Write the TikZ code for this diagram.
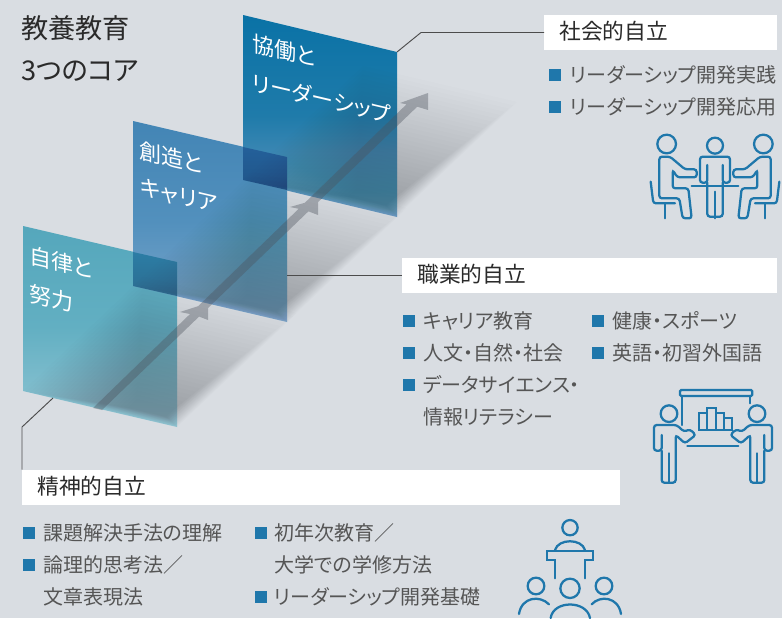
\documentclass[tikz,border=0pt]{standalone}
\usepackage{fontspec}
\setmainfont[RawFeature=+palt]{Noto Sans CJK JP}
\definecolor{bgcolor}{HTML}{D9DDE2}
\definecolor{iconblue}{HTML}{1F77AB}
\definecolor{bodytext}{HTML}{555555}
\definecolor{headtext}{HTML}{2A2A2A}
\definecolor{shadowgray}{HTML}{3A404C}
\definecolor{arrowgray}{HTML}{4C525C}
\definecolor{colorA1}{HTML}{55A7BC}
\definecolor{colorA2}{HTML}{62AFC2}
\definecolor{colorA3}{HTML}{92C6D4}
\definecolor{colorB1}{HTML}{4385B5}
\definecolor{colorB2}{HTML}{5290BD}
\definecolor{colorB3}{HTML}{7FA8CC}
\definecolor{colorC1}{HTML}{0A72A6}
\definecolor{colorC2}{HTML}{1F7BAA}
\definecolor{colorC3}{HTML}{6B9BC2}
\definecolor{colorO1}{HTML}{2C7DA5}
\definecolor{colorO2}{HTML}{2C6C90}
\definecolor{colorO3}{HTML}{24609A}
\definecolor{colorO4}{HTML}{1F5588}
\tikzset{
	bullet/.style={fill=iconblue, inner sep=0pt, minimum size=9pt},
	itemtext/.style={anchor=west, inner sep=0pt, text=bodytext, font=\fontsize{15}{15}\selectfont},
	headbox/.style={anchor=west, fill=white, inner sep=0pt, text=headtext, minimum height=26.25pt, text height=12pt, text depth=2pt, align=left, font=\fontsize{16.3}{16.3}\selectfont},
	paneltext/.style={anchor=west, inner sep=0pt, text=white, yslant=-0.234, transform shape, font=\fontsize{16.5}{16.5}\selectfont},
	titletext/.style={anchor=west, inner sep=0pt, text=headtext, font=\fontsize{20.4}{20.4}\selectfont},
	leader/.style={draw=black!70, line width=0.7pt},
	iconline/.style={draw=iconblue, line width=1.7pt, rounded corners=2pt, line cap=round},
	sitter/.pic={
		\draw[iconline] (140,72) circle (28);
		\draw[iconline] (158,205) -- (158,150) -- (172,172) -- (230,172) -- (230,148) -- (195,148) -- (150,110) -- (118,110) -- (118,235) -- (178,235) -- (188,295) -- (215,295) -- (205,205) -- cycle;
		\draw[iconline] (92,185) -- (100,250) -- (165,250);
		\draw[iconline] (135,250) -- (135,295);
	},
	presenter/.pic={
		\draw[iconline] (117,101) circle (25);
		\draw[iconline] (95,165) -- (95,212) -- (72,212) -- (72,135) -- (140,135) -- (162,155) -- (180,148) -- (197,165) -- (165,190) -- (137,165) -- (137,308) -- (95,308) -- (95,212);
		\draw[iconline] (116,220) -- (116,308);
	},
}
\begin{document}
\begin{tikzpicture}[x=0.75pt, y=-0.75pt]
	\useasboundingbox (0,0) rectangle (782,618);
	\fill[bgcolor] (0,0) rectangle (782,618);

	\coordinate (A1) at (23,226);
	\coordinate (A2) at (177,262);
	\coordinate (A3) at (177,427);
	\coordinate (A4) at (23,391);
	\coordinate (B1) at (133,121);
	\coordinate (B2) at (287,157);
	\coordinate (B3) at (287,322);
	\coordinate (B4) at (133,286);
	\coordinate (C1) at (243,15);
	\coordinate (C2) at (397,52);
	\coordinate (C3) at (397,217);
	\coordinate (C4) at (243,180);

	% panels
	\shade[top color=colorA1, bottom color=colorA3, middle color=colorA2] (A1) -- (A2) -- (A3) -- (A4) -- cycle;
	\shade[top color=colorB1, bottom color=colorB3, middle color=colorB2] (B1) -- (B2) -- (B3) -- (B4) -- cycle;
	\shade[top color=colorC1, bottom color=colorC3, middle color=colorC2] (C1) -- (C2) -- (C3) -- (C4) -- cycle;
	\shade[top color=colorO1, bottom color=colorO2] (133,252) -- (A2) -- (177,296) -- (B4) -- cycle;
	\shade[top color=colorO3, bottom color=colorO4] (243,147) -- (B2) -- (287,190) -- (C4) -- cycle;

	% soft shadows
	\foreach \ax/\ay in {23/391, 133/286, 243/180} {
		\begin{scope}[cm={154,-36,-120,-114,(\ax,\ay)}]
			\foreach \k in {0,...,29} {
				\fill[shadowgray, opacity=0.011] ({0.022*\k},{0.002*\k}) -- ({1-0.004*\k},{0.002*\k}) -- ({1-0.004*\k},{1-0.03*\k}) -- ({0.022*\k},{1-0.03*\k}) -- cycle;
			}
		\end{scope}
	}

	% arrow
	\fill[arrowgray, opacity=0.38]
		(93,408) -- (102,410) -- (420,104) -- (411,100) -- cycle
		(208,303) -- (180,312) -- (195,315) -- (208,320) -- cycle
		(318,199) -- (290,207) -- (305,210) -- (318,215) -- cycle
		(428,93) -- (400,103) -- (415,106) -- (428,110) -- cycle;

	% panel labels
	\node[paneltext] (lab1a) at (29,255) {自律と};
	\node[paneltext] (lab1b) at (29,293) {努力};
	\node[paneltext] (lab2a) at (139,150) {創造と};
	\node[paneltext] (lab2b) at (140,187) {キャリア};
	\node[paneltext] (lab3a) at (252,43) {協働と};
	\node[paneltext] (lab3b) at (252,82) {リーダーシップ};

	% title
	\node[titletext] (title1) at (21,28) {教養教育};
	\node[titletext] (title2) at (21,71) {3つのコア};

	% heading boxes
	\node[headbox, minimum width=174.75pt, text width=152.25pt] (social) at (544,32.5) {社会的自立};
	\node[headbox, minimum width=281.25pt, text width=258.75pt] (career) at (402,275.5) {職業的自立};
	\node[headbox, minimum width=448.5pt, text width=426pt] (spirit) at (22,487.5) {精神的自立};

	% leaders
	\coordinate (L1) at (421,32.5);
	\coordinate (L3) at (53,398);
	\coordinate (L4) at (22,427);
	\draw[leader] (C2) -- (L1) -- (social.west);
	\draw[leader] (B3 |- career.west) -- (career.west);
	\draw[leader] (L3) -- (L4) -- (spirit.north west);

	% lists
	\foreach \bx/\tx/\y/\txt [count=\n] in {
		555/570/75/リーダーシップ開発実践,
		555/570/107/リーダーシップ開発応用,
		409/423/321/キャリア教育,
		409/423/353/人文・自然・社会,
		409/423/385/データサイエンス・,
		598/612/321/健康・スポーツ,
		598/612/353/英語・初習外国語,
		29/43/533/課題解決手法の理解,
		29/43/565/論理的思考法／,
		261/274/533/初年次教育／,
		261/274/597/リーダーシップ開発基礎} {
		\node[bullet] (mark\n) at (\bx,\y) {};
		\node[itemtext] (item\n) at (\tx,\y) {\txt};
	}
	\node[itemtext] (item12) at (423,417) {情報リテラシー};
	\node[itemtext] (item13) at (43,597) {文章表現法};
	\node[itemtext] (item14) at (274,565) {大学での学修方法};

	% meeting icon
	\begin{scope}[shift={(620,120)}, x=0.25pt, y=-0.25pt]
		\pic (seatL) {sitter};
		\draw[iconline] (285,77) circle (24);
		\draw[iconline] (262,135) -- (262,188) -- (240,188) -- (240,110) -- (330,110) -- (330,188) -- (308,188) -- (308,135);
		\draw[iconline] (262,188) -- (262,290) -- (308,290) -- (308,188);
		\draw[iconline] (285,215) -- (285,295);
		\draw[iconline] (215,198) -- (355,198);
	\end{scope}
	\begin{scope}[shift={(810,120)}, x=-0.25pt, y=-0.25pt]
		\pic (seatR) {sitter};
	\end{scope}

	% chart icon
	\begin{scope}[shift={(630,380)}, x=0.25pt, y=-0.25pt]
		\pic (presL) {presenter};
		\draw[iconline, rounded corners=1pt] (150,30) rectangle (367,48);
		\draw[iconline] (155,48) -- (155,135);
		\draw[iconline] (360,48) -- (360,70);
		\draw[iconline, rounded corners=0pt] (208,100) rectangle (232,150);
		\draw[iconline, rounded corners=0pt] (232,85) rectangle (258,150);
		\draw[iconline, rounded corners=0pt] (258,100) rectangle (282,150);
		\draw[iconline, rounded corners=0pt] (282,115) rectangle (307,150);
		\draw[iconline] (172,198) -- (325,198);
	\end{scope}
	\begin{scope}[shift={(796,380)}, x=-0.25pt, y=-0.25pt]
		\pic (presR) {presenter};
	\end{scope}

	% lecture icon
	\begin{scope}[shift={(500,510)}, x=0.25pt, y=-0.25pt]
		\draw[iconline] (210,53) circle (23);
		\draw[iconline] (165,120) .. controls (175,85) and (245,85) .. (255,120);
		\draw[iconline, rounded corners=0pt] (165,205) -- (165,150) -- (140,150) -- (140,122) -- (280,122) -- (280,150) -- (255,150) -- (255,205);
		\draw[iconline] (108,228) circle (25);
		\draw[iconline] (210,235) circle (29);
		\draw[iconline] (312,228) circle (25);
		\draw[iconline] (57,312) .. controls (65,260) and (120,255) .. (147,283);
		\draw[iconline] (152,324) .. controls (160,270) and (260,270) .. (270,324);
		\draw[iconline] (275,283) .. controls (300,255) and (355,260) .. (363,312);
	\end{scope}
\end{tikzpicture}
\end{document}
